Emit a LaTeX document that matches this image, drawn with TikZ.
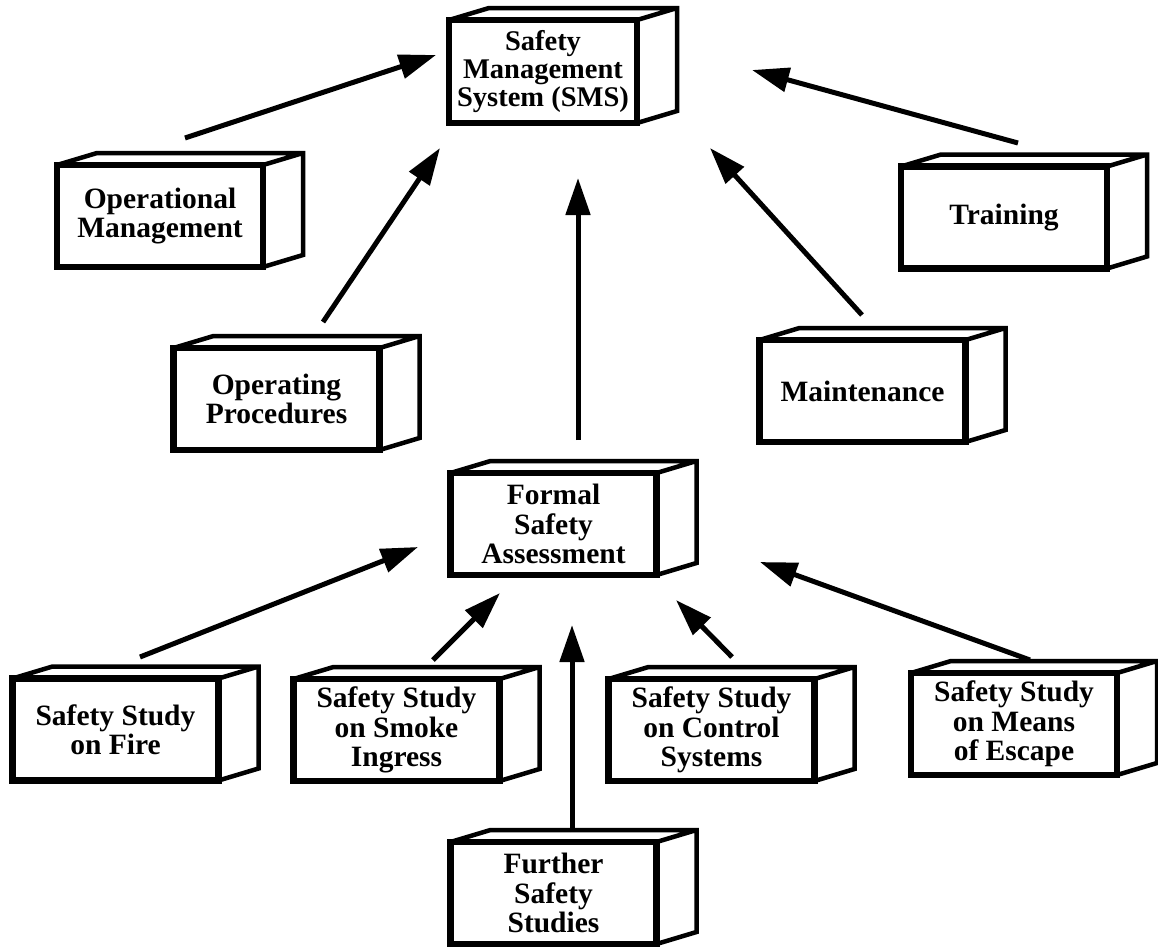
\documentclass[tikz,border=0pt]{standalone}
\usepackage{fontspec}
\setmainfont{Liberation Serif}
\usetikzlibrary{arrows.meta}

\tikzset{
  face/.style={draw, line width=6.5pt, fill=white, outer sep=0pt, inner sep=0pt,
    minimum width=206pt, minimum height=102pt, align=center,
    font=\bfseries\fontsize{29.5}{29.5}\selectfont},
  narrowface/.style={face, minimum width=188pt, minimum height=103pt,
    font=\bfseries\fontsize{28.5}{28}\selectfont},
  edge3d/.style={line width=4.5pt, line join=miter},
  arr/.style={line width=5pt, -{Triangle[length=37pt,width=24pt]}},
}

% top and right faces of a solid box behind a front-face node
\newcommand\boxsides[1]{%
  \draw[edge3d] (#1.north west) -- ++(40,-12)
    -- ([shift={(40,-12)}]#1.north east)
    -- ([shift={(40,-12)}]#1.south east) -- (#1.south east)
    (#1.north east) -- ++(40,-12);}

\begin{document}
\begin{tikzpicture}[x=1pt, y=-1pt]
\useasboundingbox (0,0) rectangle (1158,946);

% boxes
\node[narrowface] (sms) at (543,71.5) {Safety\\Management\\System (SMS)};
\node[face] (om)    at (160,216)   {Operational\\Management};
\node[face] (tr)    at (1004,217.5){Training};
\node[face] (op)    at (276.5,399) {Operating\\Procedures};
\node[face] (ma)    at (862.5,391) {Maintenance};
\node[face] (fsa)   at (553.5,524) {Formal\\Safety\\Assessment};
\node[face] (fire)  at (115.5,729.5){Safety Study\\on Fire};
\node[face] (smoke) at (396.5,730) {Safety Study\\on Smoke\\Ingress};
\node[face] (ctrl)  at (711.5,730) {Safety Study\\on Control\\Systems};
\node[face] (esc)   at (1014,724)  {Safety Study\\on Means\\of Escape};
\node[face] (fur)   at (553.5,893) {Further\\Safety\\Studies};

\foreach \b in {sms,om,tr,op,ma,fsa,fire,smoke,ctrl,esc,fur} {\boxsides{\b}}

% links into the safety management system
\draw[arr] ([shift={(25,-78)}]om.center)   -- ([shift={(-107,-16.5)}]sms.center);
\draw[arr] ([shift={(46.5,-77)}]op.center) -- ([shift={(-103,76.5)}]sms.center);
\draw[arr] ([shift={(24.5,-84)}]fsa.center)-- ([shift={(35,106.5)}]sms.center);
\draw[arr] ([shift={(-0.5,-76)}]ma.center) -- ([shift={(167,76.5)}]sms.center);
\draw[arr] ([shift={(14,-74.5)}]tr.center) -- ([shift={(209,-1.5)}]sms.center);

% links into the formal safety assessment
\draw[arr] ([shift={(24.5,-72.5)}]fire.center) -- ([shift={(-135.5,23)}]fsa.center);
\draw[arr] ([shift={(36.5,-70)}]smoke.center)  -- ([shift={(-53.5,69)}]fsa.center);
\draw[arr] ([shift={(18.5,-61)}]fur.center)    -- ([shift={(18.5,101)}]fsa.center);
\draw[arr] ([shift={(20.5,-73)}]ctrl.center)   -- ([shift={(122.5,76)}]fsa.center);
\draw[arr] ([shift={(16,-64)}]esc.center)      -- ([shift={(206.5,38)}]fsa.center);
\end{tikzpicture}
\end{document}
